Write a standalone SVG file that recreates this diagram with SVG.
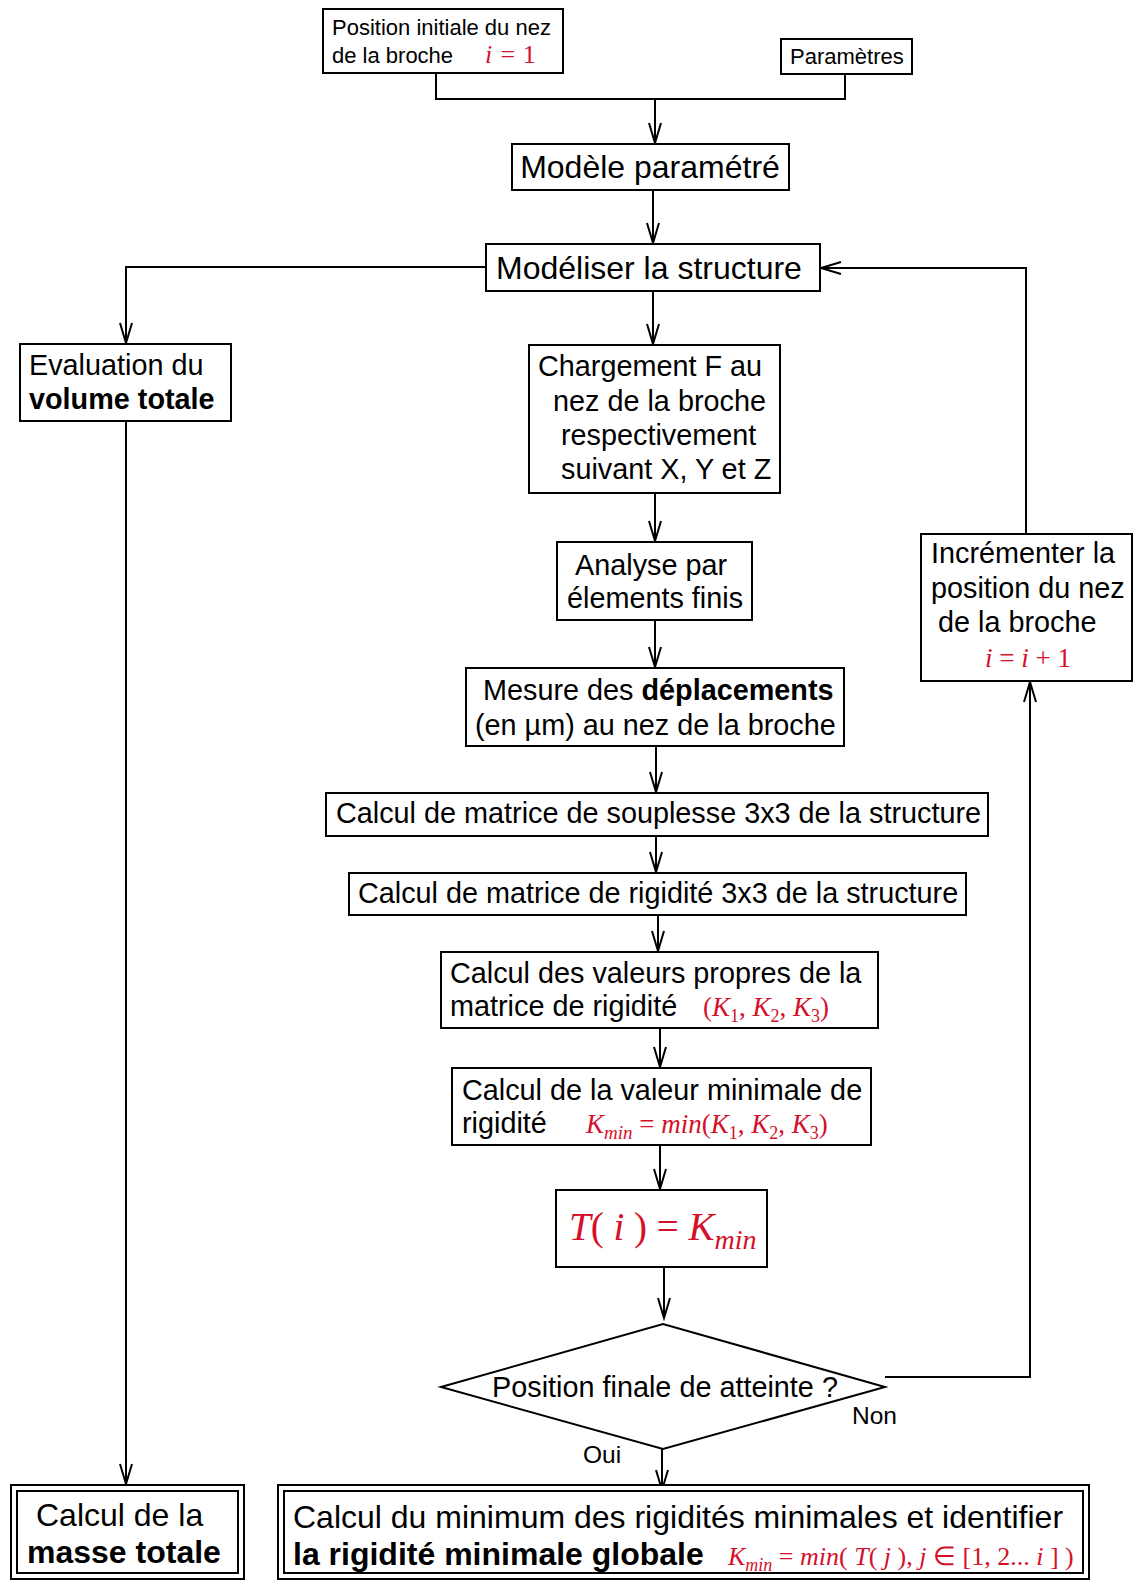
<svg xmlns="http://www.w3.org/2000/svg" width="1133" height="1580" viewBox="0 0 1133 1580">
<style>
.b{fill:#fff;stroke:#000;stroke-width:2}
.c{fill:none;stroke:#000;stroke-width:2}
text{font-family:"Liberation Sans",Arial,sans-serif;fill:#000}
.t22{font-size:22px}
.t28{font-size:28.8px}
.t32{font-size:32px}
.bd{font-weight:bold}
.m{font-family:"Liberation Serif","Times New Roman",serif;fill:#d4102b;font-style:italic}
.u{font-style:normal}
</style>
<defs>
<marker id="ar" markerUnits="userSpaceOnUse" markerWidth="24" markerHeight="16" refX="0" refY="0" viewBox="-22 -8 24 16" orient="auto" overflow="visible">
<path d="M -20,-6 L 0,0 L -20,6" fill="none" stroke="#000" stroke-width="2"/>
</marker>
</defs>
<rect width="1133" height="1580" fill="#fff"/>

<g id="connectors" class="c">
<polyline points="436,73 436,99 845,99 845,74"/>
<line x1="655" y1="99" x2="655" y2="143" marker-end="url(#ar)"/>
<line x1="653" y1="190" x2="653" y2="243" marker-end="url(#ar)"/>
<polyline points="486,267 126,267 126,343" marker-end="url(#ar)"/>
<line x1="653" y1="291" x2="653" y2="344" marker-end="url(#ar)"/>
<line x1="126" y1="421" x2="126" y2="1484" marker-end="url(#ar)"/>
<line x1="655" y1="493" x2="655" y2="541" marker-end="url(#ar)"/>
<line x1="655" y1="620" x2="655" y2="667" marker-end="url(#ar)"/>
<line x1="656" y1="746" x2="656" y2="792" marker-end="url(#ar)"/>
<line x1="656" y1="836" x2="656" y2="872" marker-end="url(#ar)"/>
<line x1="658" y1="915" x2="658" y2="951" marker-end="url(#ar)"/>
<line x1="660" y1="1028" x2="660" y2="1067" marker-end="url(#ar)"/>
<line x1="660" y1="1145" x2="660" y2="1189" marker-end="url(#ar)"/>
<line x1="664" y1="1267" x2="664" y2="1318" marker-end="url(#ar)"/>
<line x1="662" y1="1449" x2="662" y2="1490" marker-end="url(#ar)"/>
<polyline points="885,1377 1030,1377 1030,682" marker-end="url(#ar)"/>
<polyline points="1026,534 1026,268 821,268" marker-end="url(#ar)"/>
</g>

<g id="n-pos">
<rect class="b" x="323" y="9" width="240" height="64"/>
<text class="t22" x="332" y="35">Position initiale du nez</text>
<text class="t22" x="332" y="63">de la broche</text>
<text class="m" x="485" y="63" font-size="26">i = <tspan class="u">1</tspan></text>
</g>

<g id="n-param">
<rect class="b" x="781" y="39" width="131" height="35"/>
<text class="t22" x="790" y="64">Paramètres</text>
</g>

<g id="n-modele">
<rect class="b" x="512" y="144" width="277" height="46"/>
<text class="t32" x="650" y="178" text-anchor="middle">Modèle paramétré</text>
</g>

<g id="n-modeliser">
<rect class="b" x="486" y="244" width="334" height="47"/>
<text class="t32" x="496" y="279">Modéliser la structure</text>
</g>

<g id="n-volume">
<rect class="b" x="20" y="344" width="211" height="77"/>
<text class="t28" x="29" y="375">Evaluation du</text>
<text class="t28 bd" x="29" y="409">volume totale</text>
</g>

<g id="n-charge">
<rect class="b" x="529" y="345" width="251" height="148"/>
<text class="t28" x="538" y="376">Chargement F au</text>
<text class="t28" x="553" y="411">nez de la broche</text>
<text class="t28" x="561" y="445">respectivement</text>
<text class="t28" x="561" y="479">suivant X, Y et Z</text>
</g>

<g id="n-analyse">
<rect class="b" x="557" y="542" width="195" height="78"/>
<text class="t28" x="575" y="575">Analyse par</text>
<text class="t28" x="567" y="608">élements finis</text>
</g>

<g id="n-mesure">
<rect class="b" x="466" y="668" width="378" height="78"/>
<text class="t28" x="483" y="700">Mesure des <tspan class="bd">déplacements</tspan></text>
<text class="t28" x="475" y="735">(en µm) au nez de la broche</text>
</g>

<g id="n-souplesse">
<rect class="b" x="326" y="793" width="662" height="43"/>
<text class="t28" x="336" y="823">Calcul de matrice de souplesse 3x3 de la structure</text>
</g>

<g id="n-rigidite">
<rect class="b" x="349" y="873" width="617" height="42"/>
<text class="t28" x="358" y="903">Calcul de matrice de rigidité 3x3 de la structure</text>
</g>

<g id="n-propres">
<rect class="b" x="441" y="952" width="437" height="76"/>
<text class="t28" x="450" y="983">Calcul des valeurs propres de la</text>
<text class="t28" x="450" y="1016">matrice de rigidité</text>
<text class="m" x="703" y="1016" font-size="27"><tspan class="u">(</tspan>K<tspan font-size="18" dy="6" class="u">1</tspan><tspan dy="-6" class="u">,   </tspan>K<tspan font-size="18" dy="6" class="u">2</tspan><tspan dy="-6" class="u">,   </tspan>K<tspan font-size="18" dy="6" class="u">3</tspan><tspan dy="-6" class="u">)</tspan></text>
</g>

<g id="n-minimale">
<rect class="b" x="452" y="1068" width="419" height="77"/>
<text class="t28" x="462" y="1100">Calcul de la valeur minimale de</text>
<text class="t28" x="462" y="1133">rigidité</text>
<text class="m" x="586" y="1133" font-size="27">K<tspan font-size="19" dy="6">min</tspan><tspan dy="-6" class="u">  =  </tspan>min<tspan class="u">(</tspan>K<tspan font-size="18" dy="6" class="u">1</tspan><tspan dy="-6" class="u">,   </tspan>K<tspan font-size="18" dy="6" class="u">2</tspan><tspan dy="-6" class="u">,   </tspan>K<tspan font-size="18" dy="6" class="u">3</tspan><tspan dy="-6" class="u">)</tspan></text>
</g>

<g id="n-ti">
<rect class="b" x="556" y="1190" width="211" height="77"/>
<text class="m" x="569" y="1240" font-size="39">T<tspan class="u">( </tspan>i<tspan class="u"> ) = </tspan>K<tspan font-size="28" dy="9">min</tspan></text>
</g>

<g id="n-decision">
<polygon class="b" points="441,1387 663,1324 885,1387 663,1449"/>
<text class="t28" x="665" y="1397" text-anchor="middle">Position finale de atteinte ?</text>
</g>

<g id="labels">
<text x="852" y="1424" font-size="24.5">Non</text>
<text x="583" y="1463" font-size="24.5">Oui</text>
</g>

<g id="n-increment">
<rect class="b" x="921" y="534" width="211" height="147"/>
<text class="t28" x="931" y="563">Incrémenter la</text>
<text class="t28" x="931" y="598">position du nez</text>
<text class="t28" x="938" y="632">de la broche</text>
<text class="m" x="985" y="667" font-size="27">i<tspan class="u"> = </tspan>i<tspan class="u"> + 1</tspan></text>
</g>

<g id="n-masse">
<rect class="b" x="11" y="1485" width="233" height="94"/>
<rect class="b" x="17" y="1491" width="221" height="82"/>
<text class="t32" x="36" y="1526">Calcul de la</text>
<text class="t32 bd" x="27" y="1563">masse totale</text>
</g>

<g id="n-global">
<rect class="b" x="278" y="1485" width="811" height="94"/>
<rect class="b" x="284" y="1491" width="799" height="82"/>
<text class="t32" x="293" y="1528">Calcul du minimum des rigidités minimales et identifier</text>
<text class="t32 bd" x="293" y="1565">la rigidité minimale globale</text>
<text class="m" x="728" y="1565" font-size="26">K<tspan font-size="18" dy="6">min</tspan><tspan dy="-6" class="u"> = </tspan>min<tspan class="u">( </tspan>T<tspan class="u">( </tspan>j<tspan class="u"> ),  </tspan>j<tspan class="u"> ∈ [1, 2... </tspan>i<tspan class="u"> ] )</tspan></text>
</g>
</svg>
